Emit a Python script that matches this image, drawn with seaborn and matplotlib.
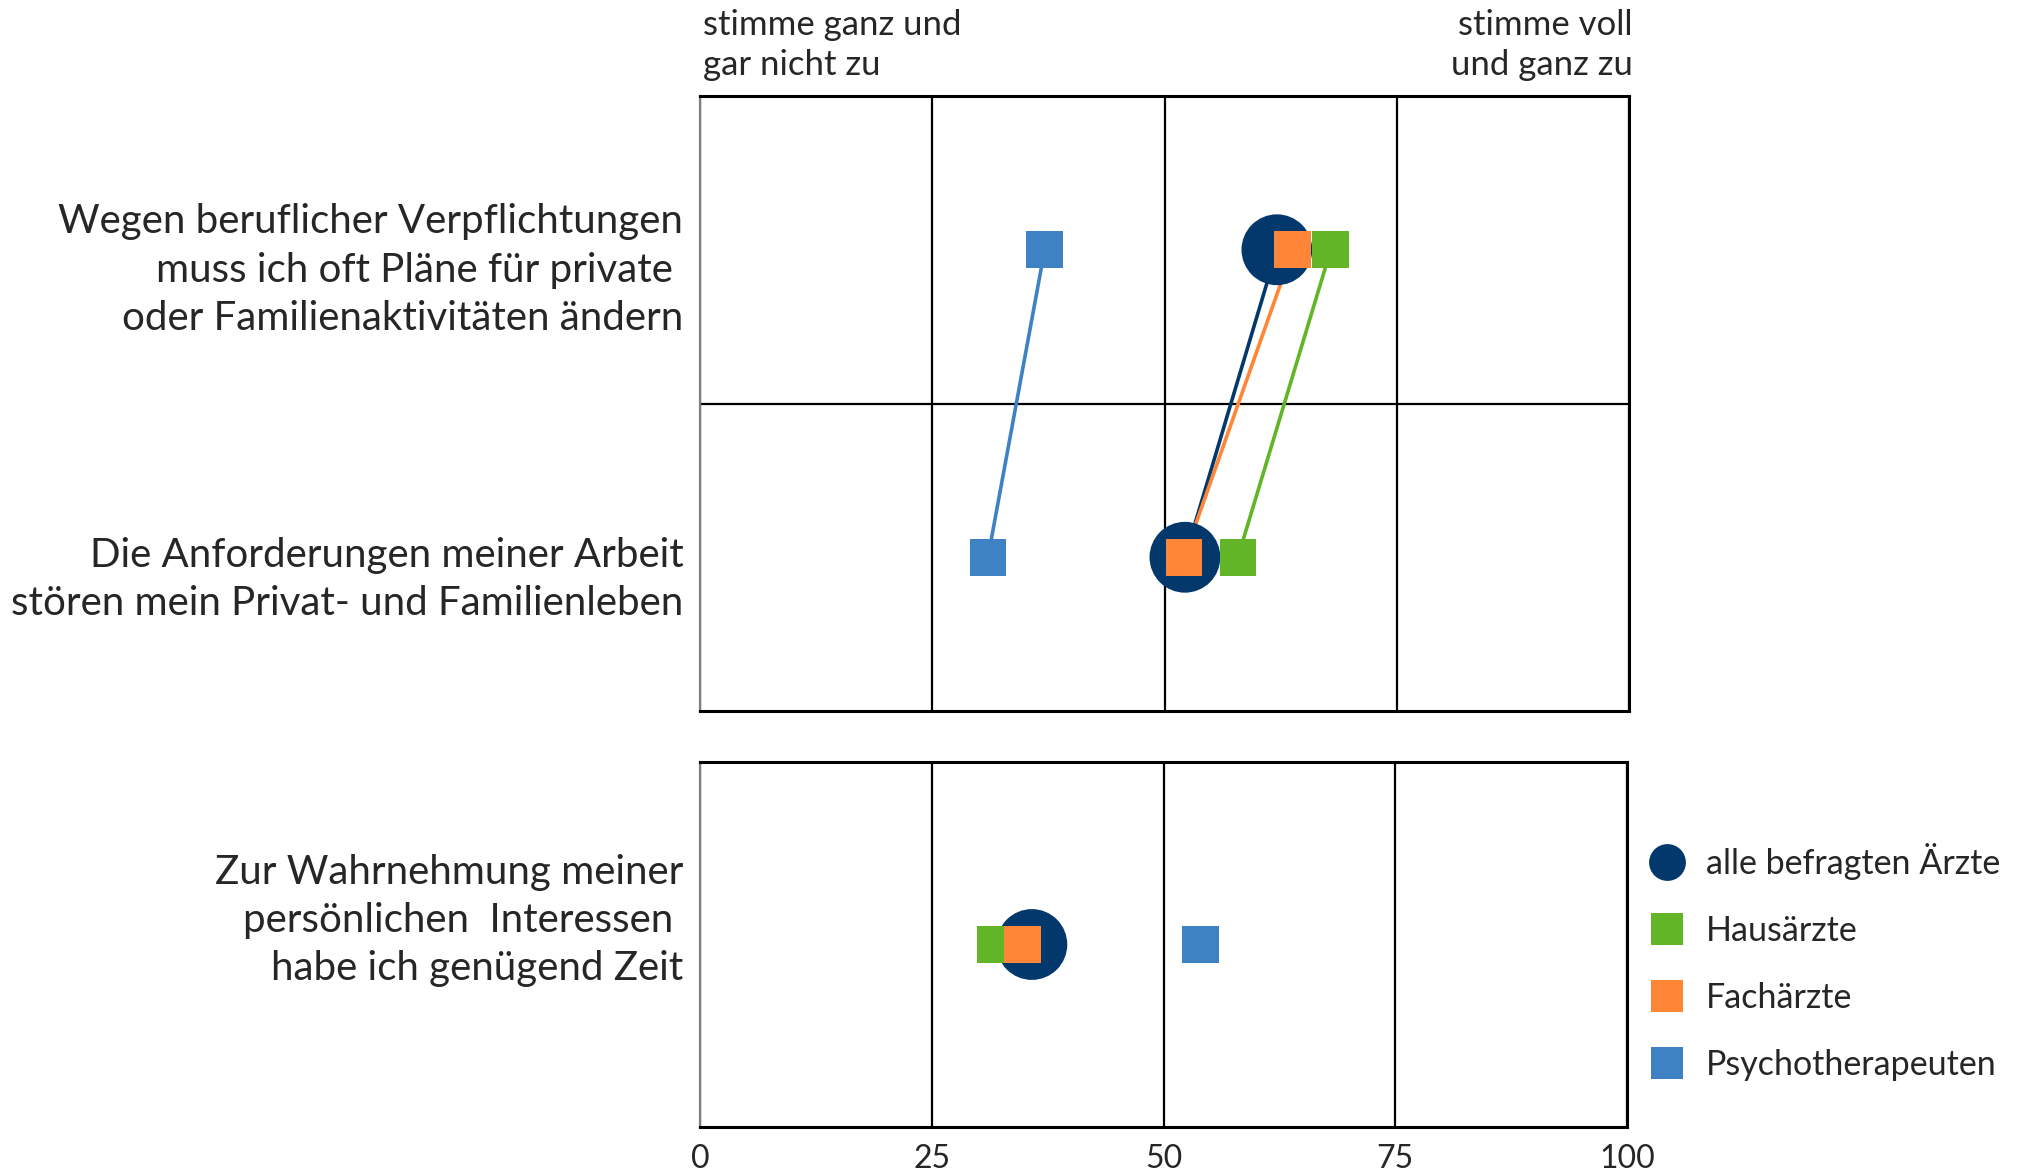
import matplotlib
matplotlib.use("Agg")
import matplotlib.pyplot as plt
import seaborn as sns
import pandas as pd
from matplotlib.lines import Line2D

# ---------------- data ----------------
statements = [
    "Wegen beruflicher Verpflichtungen\nmuss ich oft Pläne für private \noder Familienaktivitäten ändern",
    "Die Anforderungen meiner Arbeit\nstören mein Privat- und Familienleben",
    "Zur Wahrnehmung meiner\npersönlichen  Interessen \nhabe ich genügend Zeit",
]
groups = ["alle befragten Ärzte", "Hausärzte", "Fachärzte", "Psychotherapeuten"]
alle = [62.1, 52.2, 35.8]
haus = [67.9, 57.9, 31.9]
fach = [63.8, 52.1, 34.8]
psycho = [37.1, 31.0, 54.0]
xticks = [0, 25, 50, 75, 100]
header_left = "stimme ganz und\ngar nicht zu"
header_right = "stimme voll\nund ganz zu"

colors = {
    "alle befragten Ärzte": "#02386B",
    "Hausärzte": "#62B526",
    "Fachärzte": "#FF8636",
    "Psychotherapeuten": "#3F82C4",
}
markers = {"alle befragten Ärzte": "o", "Hausärzte": "s", "Fachärzte": "s", "Psychotherapeuten": "s"}
sizes = {"alle befragten Ärzte": 2600, "Hausärzte": 700, "Fachärzte": 700, "Psychotherapeuten": 700}

panel_of = [0, 0, 1]
ypos_of = [0.5, 1.5, 0.5]

rows = []
for g, vals in zip(groups, [alle, haus, fach, psycho]):
    for i, v in enumerate(vals):
        rows.append(dict(group=g, statement=statements[i], value=v,
                         panel=panel_of[i], ypos=ypos_of[i]))
df = pd.DataFrame(rows)

# ---------------- style ----------------
sns.set_style("white")
plt.rcParams["font.family"] = ["Lato", "DejaVu Sans"]

fig = plt.figure(figsize=(20.22, 11.75), dpi=100)
W, H = 2022, 1175
def ax_rect(x0, y0, x1, y1):
    return [x0 / W, 1 - y1 / H, (x1 - x0) / W, (y1 - y0) / H]

ax_top = fig.add_axes(ax_rect(700, 96, 1629, 711))
ax_bot = fig.add_axes(ax_rect(700, 762, 1627, 1127))

label_font = 29
for ax, panel, ylim in [(ax_top, 0, (2, 0)), (ax_bot, 1, (1, 0))]:
    sub = df[df.panel == panel]
    if panel == 0:
        sns.lineplot(data=sub, x="value", y="ypos", hue="group", palette=colors,
                     sort=False, estimator=None, legend=False, linewidth=2.6,
                     ax=ax, zorder=2)
    sns.scatterplot(data=sub, x="value", y="ypos", hue="group", style="group",
                    size="group", palette=colors, markers=markers, sizes=sizes,
                    linewidth=0, legend=False, ax=ax, zorder=3)
    ax.set_xlim(0, 100)
    ax.set_ylim(*ylim)
    ax.set_xticks(xticks)
    ax.set_yticks([])
    ax.set_xlabel("")
    ax.set_ylabel("")
    ax.grid(True, axis="x", color="black", linewidth=1.6)
    ax.set_axisbelow(True)
    ax.tick_params(axis="x", length=0, labelsize=23, pad=12)
    for side in ["top", "right", "bottom"]:
        ax.spines[side].set_color("black")
        ax.spines[side].set_linewidth(2.2)
    ax.spines["left"].set_color("#808080")
    ax.spines["left"].set_linewidth(1.6)

ax_top.set_xticklabels([])
ax_top.axhline(1, color="black", linewidth=1.6, zorder=1)

# statement labels
label_y = [0.567, 1.572, 0.434]
for i, s in enumerate(statements):
    ax = ax_top if panel_of[i] == 0 else ax_bot
    ax.text(-0.018, label_y[i], s, transform=ax.get_yaxis_transform(),
            ha="right", va="center", multialignment="right",
            fontsize=label_font, linespacing=1.38)

# headers
fig.text(703 / W, 1 - 9 / H, header_left, ha="left", va="top", fontsize=25, linespacing=1.3)
fig.text(1633 / W, 1 - 9 / H, header_right, ha="right", va="top", fontsize=25, linespacing=1.3)

# legend
handles = []
for g in groups:
    if g == groups[0]:
        handles.append(Line2D([], [], marker="o", linestyle="none", markersize=26.5,
                              markerfacecolor=colors[g], markeredgewidth=0))
    else:
        handles.append(Line2D([], [], marker="s", linestyle="none", markersize=23.5,
                              markerfacecolor=colors[g], markeredgewidth=0))
fig.legend(handles, groups, loc="center left", bbox_to_anchor=(1623 / W, 1 - 962 / H),
           frameon=False, fontsize=24.5, labelspacing=1.03, handletextpad=0.33,
           handlelength=1.6, borderpad=0)

fig.savefig("out.png", dpi=100)
